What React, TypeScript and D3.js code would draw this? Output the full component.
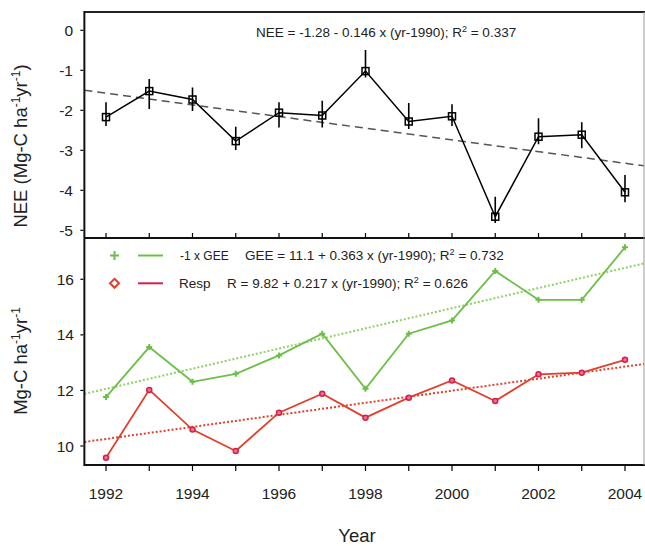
import React from "react";
import * as d3 from "d3";

const years = [1992, 1993, 1994, 1995, 1996, 1997, 1998, 1999, 2000, 2001, 2002, 2003, 2004];
const nee = [-2.17, -1.52, -1.73, -2.77, -2.06, -2.13, -1.02, -2.28, -2.15, -4.66, -2.66, -2.61, -4.05];
const neeHigh = [-1.8, -1.22, -1.43, -2.41, -1.8, -1.76, -0.49, -1.82, -1.85, -4.16, -2.2, -2.3, -3.62];
const neeLow = [-2.39, -1.97, -2.02, -2.99, -2.43, -2.43, -1.18, -2.47, -2.39, -4.82, -2.85, -2.95, -4.3];
const gee = [11.76, 13.56, 12.31, 12.6, 13.26, 14.04, 12.06, 14.04, 14.52, 16.3, 15.26, 15.26, 17.15];
const resp = [9.58, 12.02, 10.59, 9.82, 11.2, 11.88, 11.02, 11.74, 12.36, 11.62, 12.58, 12.64, 13.1];
// trend lines: [intercept, slope] vs (yr - 1990)
const neeTrend = [-1.28, -0.146];
const geeTrend = [11.33, 0.363];
const respTrend = [9.82, 0.217];
const xTicks = [1992, 1994, 1996, 1998, 2000, 2002, 2004];
const neeTicks = [0, -1, -2, -3, -4, -5];
const fluxTicks = [10, 12, 14, 16];

const FONT = "'Liberation Sans', Arial, Helvetica, sans-serif";
const GREEN = "#6cbf47";
const GREEN_T = "#8fd063";
const RED = "#e0402a";
const RED_M = "#d4204a";

export default function App() {
  const x = d3.scaleLinear().domain([1992, 2004]).range([106, 625]);
  const left = x(1991.5);
  const right = 644;
  const top1 = 12, mid = 238, bot = 465;
  const y1 = d3.scaleLinear().domain([0, -5]).range([30.3, 230.3]);
  const y2 = d3.scaleLinear().domain([10, 16]).range([446, 279.3]);
  const xEnd = x.invert(right);

  const neeLine = d3.line<number>().x((_, i) => x(years[i])).y((d) => y1(d));
  const geeLine = d3.line<number>().x((_, i) => x(years[i])).y((d) => y2(d));
  const respLine = d3.line<number>().x((_, i) => x(years[i])).y((d) => y2(d));
  const trend = (c: number[], y: d3.ScaleLinear<number, number>) =>
    d3.line<number>().x((d) => x(d)).y((d) => y(c[0] + c[1] * (d - 1990)))([1991.5, xEnd]);

  const allYears = d3.range(1992, 2005);

  return (
    <svg width={645} height={546} style={{ position: "absolute", left: 0, top: 0, background: "#fff" }} fontFamily={FONT}>
      <defs>
        <clipPath id="c1"><rect x={left} y={top1} width={right - left} height={mid - top1} /></clipPath>
        <clipPath id="c2"><rect x={left} y={mid} width={right - left} height={bot - mid} /></clipPath>
      </defs>
      {/* top panel */}
      <g clipPath="url(#c1)">
        <path d={trend(neeTrend, y1) || ""} fill="none" stroke="#555" strokeWidth={1.5} strokeDasharray="8,5" />
        <path d={neeLine(nee) || ""} fill="none" stroke="#000" strokeWidth={1.5} />
        {years.map((yr, i) => (
          <line key={"e" + yr} x1={x(yr)} x2={x(yr)} y1={y1(neeHigh[i])} y2={y1(neeLow[i])} stroke="#000" strokeWidth={1.6} />
        ))}
        {years.map((yr, i) => (
          <rect key={"s" + yr} x={x(yr) - 3.5} y={y1(nee[i]) - 3.5} width={7} height={7} fill="none" stroke="#000" strokeWidth={1.5} />
        ))}
      </g>
      {/* bottom panel */}
      <g clipPath="url(#c2)">
        <path d={trend(geeTrend, y2) || ""} fill="none" stroke={GREEN_T} strokeWidth={2} strokeDasharray="2,2" />
        <path d={trend(respTrend, y2) || ""} fill="none" stroke={RED} strokeWidth={2} strokeDasharray="2,2" />
        <path d={geeLine(gee) || ""} fill="none" stroke={GREEN} strokeWidth={1.8} />
        <path d={respLine(resp) || ""} fill="none" stroke={RED} strokeWidth={1.8} />
        {years.map((yr, i) => (
          <path key={"g" + yr} d={`M${x(yr) - 3},${y2(gee[i])}h6M${x(yr)},${y2(gee[i]) - 3}v6`} stroke={GREEN} strokeWidth={2} />
        ))}
        {years.map((yr, i) => (
          <circle key={"r" + yr} cx={x(yr)} cy={y2(resp[i])} r={2.5} fill="#f07090" stroke={RED_M} strokeWidth={1.5} />
        ))}
      </g>
      {/* frames */}
      <line x1={left} x2={right + 1} y1={top1} y2={top1} stroke="#222" strokeWidth={2} />
      <line x1={left} x2={right + 1} y1={mid} y2={mid} stroke="#111" strokeWidth={2} />
      <line x1={left} x2={right + 1} y1={bot} y2={bot} stroke="#111" strokeWidth={2} />
      <line x1={left} x2={left} y1={top1 - 1} y2={bot + 1} stroke="#111" strokeWidth={2} />
      <line x1={right} x2={right} y1={top1} y2={bot} stroke="#999" strokeWidth={1} />
      {/* x ticks */}
      {allYears.map((yr) => (
        <g key={"xt" + yr}>
          <line x1={x(yr)} x2={x(yr)} y1={mid - 1} y2={mid - 5} stroke="#000" strokeWidth={1.2} />
          <line x1={x(yr)} x2={x(yr)} y1={bot + 1} y2={bot + 6} stroke="#000" strokeWidth={1.2} />
        </g>
      ))}
      {xTicks.map((yr) => (
        <text key={"xl" + yr} x={x(yr)} y={499} textAnchor="middle" fontSize={15.5} fill="#222">{yr}</text>
      ))}
      {/* y ticks */}
      {neeTicks.map((v) => (
        <g key={"yt" + v}>
          <line x1={left - 1} x2={left - 4} y1={y1(v)} y2={y1(v)} stroke="#000" strokeWidth={1.2} />
          <text x={73} y={y1(v) + 5.5} textAnchor="end" fontSize={15.5} fill="#222">{v}</text>
        </g>
      ))}
      {fluxTicks.map((v) => (
        <g key={"yf" + v}>
          <line x1={left - 1} x2={left - 4} y1={y2(v)} y2={y2(v)} stroke="#000" strokeWidth={1.2} />
          <text x={74} y={y2(v) + 5.5} textAnchor="end" fontSize={15.5} fill="#222">{v}</text>
        </g>
      ))}
      {/* axis titles */}
      <text transform="translate(27,146) rotate(-90)" textAnchor="middle" fontSize={18.5} fill="#222">
        NEE (Mg-C ha<tspan dy={-7} fontSize={12}>-1</tspan><tspan dy={7}>yr</tspan><tspan dy={-7} fontSize={12}>-1</tspan><tspan dy={7}>)</tspan>
      </text>
      <text transform="translate(27,361) rotate(-90)" textAnchor="middle" fontSize={18.5} fill="#222">
        Mg-C ha<tspan dy={-7} fontSize={12}>-1</tspan><tspan dy={7}>yr</tspan><tspan dy={-7} fontSize={12}>-1</tspan>
      </text>
      <text x={357} y={542} textAnchor="middle" fontSize={18.5} fill="#222">Year</text>
      {/* equations */}
      <text x={256} y={37} fontSize={13.5} fill="#222">
        NEE = -1.28 - 0.146 x (yr-1990); R<tspan dy={-5} fontSize={9}>2</tspan><tspan dy={5}> = 0.337</tspan>
      </text>
      {/* legend */}
      <path d="M110,255.5h9M114.5,251v9" stroke={GREEN} strokeWidth={2} />
      <line x1={138} x2={163} y1={255.5} y2={255.5} stroke={GREEN} strokeWidth={2} />
      <text x={180} y={260} fontSize={12} fill="#222">-1 x GEE</text>
      <text x={245} y={260} fontSize={13.5} fill="#222">
        GEE = 11.1 + 0.363 x (yr-1990); R<tspan dy={-5} fontSize={9}>2</tspan><tspan dy={5}> = 0.732</tspan>
      </text>
      <path d="M114.5,278.8l4.5,4.5l-4.5,4.5l-4.5,-4.5z" fill="none" stroke={RED} strokeWidth={2} />
      <line x1={138} x2={163} y1={283.3} y2={283.3} stroke={RED_M} strokeWidth={2} />
      <text x={179} y={288} fontSize={13.5} fill="#222">Resp</text>
      <text x={227} y={288} fontSize={13.5} fill="#222">
        R = 9.82 + 0.217 x (yr-1990); R<tspan dy={-5} fontSize={9}>2</tspan><tspan dy={5}> = 0.626</tspan>
      </text>
    </svg>
  );
}
